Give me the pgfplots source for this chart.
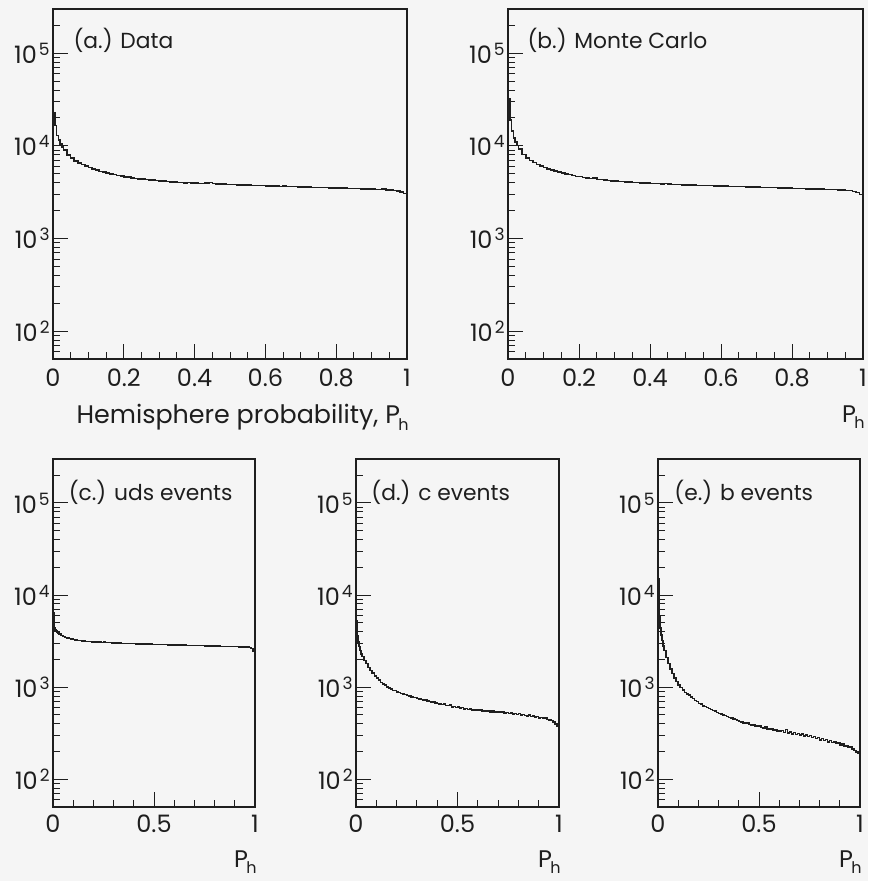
\documentclass[border=0pt]{standalone}
\usepackage{fontspec}
\setmainfont{Poppins}
\usepackage{pgfplots}
\pgfplotsset{compat=1.18}
\definecolor{bg}{RGB}{245,245,245}
\definecolor{ink}{RGB}{30,30,30}
\newcommand{\expo}[1]{\kern1pt\raisebox{4pt}{\fontsize{8.5}{9}\selectfont #1}}
\newcommand{\Ph}{P\kern-0.8pt\raisebox{-0.5ex}{\fontsize{8}{9}\selectfont h}}
\newcommand{\ticksz}{\fontsize{12}{13}\selectfont}
\newcommand{\labsz}{\fontsize{10.9}{12}\selectfont}
\tikzset{plab/.style={anchor=west, inner sep=0pt, font=\labsz, text=ink}}
\pgfplotsset{
  mypanel/.style={
    scale only axis, xmin=0, xmax=1, ymin=50, ymax=300000,
    axis line style={ink, line width=0.6pt},
    tick style={ink, line width=0.5pt},
    tick align=inside, tick pos=left,
    major tick length=7.5pt, minor tick length=3.5pt,
    ytick={100,1000,10000,100000},
    yticklabels={10\expo{2},10\expo{3},10\expo{4},10\expo{5}},
    minor ytick={60,70,80,90,200,300,400,500,600,700,800,900,2000,3000,4000,5000,6000,7000,8000,9000,20000,30000,40000,50000,60000,70000,80000,90000,200000},
    ticklabel style={font=\ticksz, text=ink},
    yticklabel style={xshift=1.8pt},
    xlabel style={at={(rel axis cs:1,0)}, anchor=east, inner sep=0pt, text=ink},
  },
  mytop/.style={mypanel, width=177pt, height=175pt,
    xtick={0,0.2,0.4,0.6,0.8,1}, xticklabels={0,0.2,0.4,0.6,0.8,1},
    minor xtick={0.05,0.1,0.15,0.25,0.3,0.35,0.45,0.5,0.55,0.65,0.7,0.75,0.85,0.9,0.95},
    xticklabel style={yshift=-1.6pt}},
  mybot/.style={mypanel, width=101pt, height=174pt,
    xtick={0,0.5,1}, xticklabels={0,0.5,1},
    minor xtick={0.1,0.2,0.3,0.4,0.6,0.7,0.8,0.9},
    xticklabel style={yshift=-0.6pt},
    xlabel={\Ph}, xlabel style={yshift=-27.5pt, xshift=1pt, font=\fontsize{12}{13}\selectfont}},
  myhist/.style={const plot mark left, no marks, color=ink, line width=0.75pt},
}
\begin{document}
\begin{tikzpicture}[x=1pt,y=1pt]
\path[use as bounding box, fill=bg] (0,0) rectangle (434,440.5);

% (a) Data
\begin{semilogyaxis}[mytop, at={(26.5pt,261pt)}, anchor=south west,
  xlabel={Hemisphere probability, \Ph}, xlabel style={yshift=-29pt, xshift=1pt, font=\fontsize{12.7}{13}\selectfont}]
\addplot[myhist] coordinates {(0,23000) (0.005,16500) (0.01,13000) (0.015,11500) (0.02,10500) (0.025,9700)
(0.03,9000) (0.04,8000) (0.05,7350) (0.06,6900) (0.07,6550) (0.08,6250) (0.09,6050)
(0.10,5800) (0.11,5620) (0.12,5480) (0.13,5300) (0.14,5200) (0.15,5060) (0.16,4950) (0.17,4880) (0.18,4760) (0.19,4710)
(0.20,4620) (0.21,4580) (0.22,4500) (0.23,4450) (0.24,4410) (0.25,4360) (0.26,4340) (0.27,4270) (0.28,4260) (0.29,4200)
(0.30,4190) (0.31,4150) (0.32,4130) (0.33,4090) (0.34,4070) (0.35,4040) (0.36,4030) (0.37,3990) (0.38,4000) (0.39,3960)
(0.40,3950) (0.41,3930) (0.42,3920) (0.43,3980) (0.44,4030) (0.45,3900) (0.46,3870) (0.47,3880) (0.48,3850) (0.49,3840)
(0.50,3820) (0.51,3815) (0.52,3790) (0.53,3785) (0.54,3770) (0.55,3765) (0.56,3750) (0.57,3735) (0.58,3720) (0.59,3715)
(0.60,3700) (0.61,3695) (0.62,3680) (0.63,3675) (0.64,3660) (0.65,3690) (0.66,3645) (0.67,3630) (0.68,3625) (0.69,3610)
(0.70,3605) (0.71,3590) (0.72,3585) (0.73,3570) (0.74,3565) (0.75,3550) (0.76,3545) (0.77,3530) (0.78,3525) (0.79,3510)
(0.80,3505) (0.81,3490) (0.82,3485) (0.83,3470) (0.84,3465) (0.85,3450) (0.86,3445) (0.87,3430) (0.88,3425) (0.89,3410)
(0.90,3405) (0.91,3390) (0.92,3370) (0.93,3400) (0.94,3340) (0.95,3320) (0.96,3280) (0.97,3240) (0.98,3170) (0.99,3060) (1.0,3060)};
\node[plab] at (rel axis cs:0.057,0.911) {(a.) Data};
\end{semilogyaxis}

% (b) Monte Carlo
\begin{semilogyaxis}[mytop, at={(254pt,261pt)}, anchor=south west, width=177.5pt,
  xlabel={\Ph}, xlabel style={yshift=-29pt, xshift=1pt, font=\fontsize{12}{13}\selectfont}]
\addplot[myhist] coordinates {(0,32000) (0.005,19000) (0.01,14500) (0.015,12200) (0.02,11000) (0.025,10100)
(0.03,9200) (0.04,8100) (0.05,7400) (0.06,6950) (0.07,6580) (0.08,6250) (0.09,6030)
(0.10,5820) (0.11,5600) (0.12,5460) (0.13,5320) (0.14,5200) (0.15,5060) (0.16,4960) (0.17,4880) (0.18,4780) (0.19,4690)
(0.20,4640) (0.21,4560) (0.22,4490) (0.23,4430) (0.24,4470) (0.25,4340) (0.26,4310) (0.27,4250) (0.28,4230) (0.29,4190)
(0.30,4160) (0.31,4130) (0.32,4110) (0.33,4080) (0.34,4060) (0.35,4030) (0.36,4010) (0.37,3990) (0.38,3970) (0.39,3950)
(0.40,3930) (0.41,3920) (0.42,3900) (0.43,3880) (0.44,3900) (0.45,3860) (0.46,3840) (0.47,3830) (0.48,3820) (0.49,3800)
(0.50,3790) (0.51,3780) (0.52,3770) (0.53,3750) (0.54,3745) (0.55,3730) (0.56,3720) (0.57,3710) (0.58,3700) (0.59,3690)
(0.60,3680) (0.61,3670) (0.62,3660) (0.63,3650) (0.64,3640) (0.65,3630) (0.66,3660) (0.67,3615) (0.68,3600) (0.69,3590)
(0.70,3580) (0.71,3570) (0.72,3560) (0.73,3550) (0.74,3540) (0.75,3530) (0.76,3520) (0.77,3510) (0.78,3500) (0.79,3490)
(0.80,3480) (0.81,3470) (0.82,3460) (0.83,3450) (0.84,3440) (0.85,3430) (0.86,3420) (0.87,3410) (0.88,3400) (0.89,3390)
(0.90,3380) (0.91,3370) (0.92,3360) (0.93,3350) (0.94,3330) (0.95,3310) (0.96,3280) (0.97,3230) (0.98,3150) (0.99,3000) (1.0,3000)};
\node[plab] at (rel axis cs:0.054,0.911) {(b.) Monte Carlo};
\end{semilogyaxis}

% (c) uds events
\begin{semilogyaxis}[mybot, at={(26.5pt,37pt)}, anchor=south west]
\addplot[myhist] coordinates {(0,6500) (0.005,4400) (0.01,4200) (0.015,4050) (0.02,3950) (0.025,3850)
(0.03,3780) (0.04,3650) (0.05,3560) (0.06,3480) (0.07,3420) (0.08,3370) (0.09,3330)
(0.10,3290) (0.11,3260) (0.12,3230) (0.13,3200) (0.14,3180) (0.15,3160) (0.16,3150) (0.17,3130) (0.18,3120) (0.19,3110)
(0.20,3100) (0.21,3090) (0.22,3110) (0.23,3080) (0.24,3070) (0.25,3100) (0.26,3060) (0.27,3050) (0.28,3040) (0.29,3030)
(0.30,3020) (0.31,3015) (0.32,3010) (0.33,3000) (0.34,2995) (0.35,2990) (0.36,2985) (0.37,2980) (0.38,2975) (0.39,2970)
(0.40,2965) (0.41,2960) (0.42,2955) (0.43,2950) (0.44,2945) (0.45,2940) (0.46,2935) (0.47,2930) (0.48,2925) (0.49,2920)
(0.50,2915) (0.51,2910) (0.52,2905) (0.53,2900) (0.54,2896) (0.55,2892) (0.56,2888) (0.57,2884) (0.58,2880) (0.59,2876)
(0.60,2872) (0.61,2868) (0.62,2864) (0.63,2860) (0.64,2856) (0.65,2852) (0.66,2848) (0.67,2844) (0.68,2840) (0.69,2836)
(0.70,2832) (0.71,2828) (0.72,2824) (0.73,2820) (0.74,2816) (0.75,2812) (0.76,2808) (0.77,2804) (0.78,2800) (0.79,2796)
(0.80,2792) (0.81,2788) (0.82,2784) (0.83,2780) (0.84,2776) (0.85,2772) (0.86,2768) (0.87,2764) (0.88,2760) (0.89,2756)
(0.90,2752) (0.91,2748) (0.92,2744) (0.93,2740) (0.94,2735) (0.95,2728) (0.96,2715) (0.97,2690) (0.98,2620) (0.99,2480) (1.0,2480)};
\node[plab] at (rel axis cs:0.076,0.905) {(c.) uds events};
\end{semilogyaxis}

% (d) c events
\begin{semilogyaxis}[mybot, at={(178pt,37pt)}, anchor=south west, width=101.5pt]
\addplot[myhist] coordinates {(0,5300) (0.005,3600) (0.01,3100) (0.015,2750) (0.02,2500) (0.025,2300)
(0.03,2150) (0.04,1950) (0.05,1800) (0.06,1640) (0.07,1520) (0.08,1420) (0.09,1330)
(0.10,1250) (0.11,1190) (0.12,1130) (0.13,1080) (0.14,1050) (0.15,1010) (0.16,985) (0.17,960) (0.18,925) (0.19,915)
(0.20,885) (0.21,870) (0.22,855) (0.23,840) (0.24,830) (0.25,812) (0.26,805) (0.27,785) (0.28,775) (0.29,770)
(0.30,750) (0.31,748) (0.32,735) (0.33,722) (0.34,728) (0.35,705) (0.36,700) (0.37,690) (0.38,695) (0.39,672)
(0.40,668) (0.41,660) (0.42,648) (0.43,655) (0.44,635) (0.45,630) (0.46,640) (0.47,612) (0.48,620) (0.49,605)
(0.50,612) (0.51,595) (0.52,600) (0.53,578) (0.54,590) (0.55,570) (0.56,582) (0.57,565) (0.58,560) (0.59,572)
(0.60,556) (0.61,562) (0.62,548) (0.63,555) (0.64,545) (0.65,552) (0.66,540) (0.67,548) (0.68,535) (0.69,530)
(0.70,542) (0.71,528) (0.72,535) (0.73,522) (0.74,530) (0.75,518) (0.76,525) (0.77,512) (0.78,520) (0.79,505)
(0.80,515) (0.81,500) (0.82,508) (0.83,495) (0.84,488) (0.85,496) (0.86,480) (0.87,486) (0.88,472) (0.89,478)
(0.90,465) (0.91,470) (0.92,455) (0.93,460) (0.94,448) (0.95,440) (0.96,432) (0.97,420) (0.98,400) (0.99,375) (1.0,375)};
\node[plab] at (rel axis cs:0.074,0.905) {(d.) c events};
\end{semilogyaxis}

% (e) b events
\begin{semilogyaxis}[mybot, at={(329pt,37pt)}, anchor=south west]
\addplot[myhist] coordinates {(0,15000) (0.005,6000) (0.01,4400) (0.015,3700) (0.02,3200) (0.025,2800)
(0.03,2500) (0.04,2100) (0.05,1800) (0.06,1580) (0.07,1400) (0.08,1260) (0.09,1150)
(0.10,1050) (0.11,990) (0.12,930) (0.13,880) (0.14,845) (0.15,820) (0.16,780) (0.17,752) (0.18,720) (0.19,700)
(0.20,665) (0.21,655) (0.22,628) (0.23,615) (0.24,598) (0.25,585) (0.26,572) (0.27,555) (0.28,548) (0.29,530)
(0.30,520) (0.31,512) (0.32,498) (0.33,492) (0.34,478) (0.35,470) (0.36,462) (0.37,450) (0.38,445) (0.39,432)
(0.40,425) (0.41,418) (0.42,410) (0.43,402) (0.44,412) (0.45,392) (0.46,388) (0.47,395) (0.48,380) (0.49,372)
(0.50,378) (0.51,365) (0.52,360) (0.53,368) (0.54,352) (0.55,348) (0.56,355) (0.57,340) (0.58,346) (0.59,335)
(0.60,330) (0.61,338) (0.62,322) (0.63,345) (0.64,318) (0.65,326) (0.66,312) (0.67,320) (0.68,306) (0.69,315)
(0.70,302) (0.71,310) (0.72,296) (0.73,304) (0.74,290) (0.75,298) (0.76,284) (0.77,290) (0.78,278) (0.79,285)
(0.80,268) (0.81,276) (0.82,262) (0.83,270) (0.84,255) (0.85,262) (0.86,250) (0.87,256) (0.88,244) (0.89,248)
(0.90,236) (0.91,242) (0.92,228) (0.93,232) (0.94,220) (0.95,224) (0.96,212) (0.97,205) (0.98,198) (0.99,190) (1.0,190)};
\node[plab] at (rel axis cs:0.079,0.905) {(e.) b events};
\end{semilogyaxis}
\end{tikzpicture}
\end{document}
